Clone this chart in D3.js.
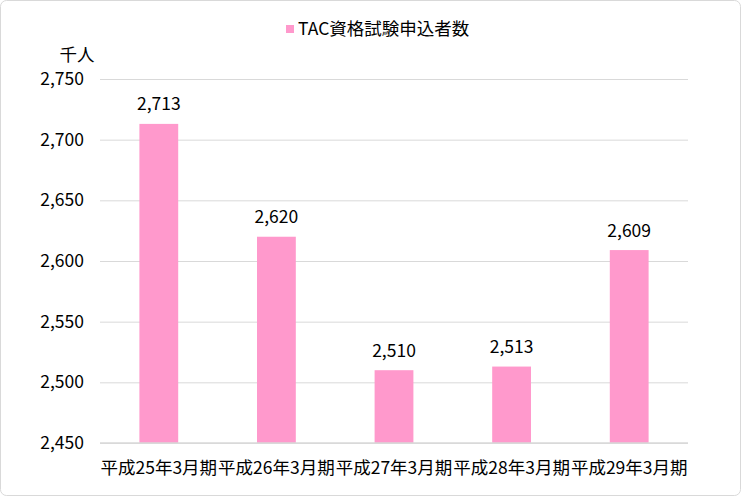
<!DOCTYPE html>
<html><head><meta charset="utf-8">
<script src="https://cdn.jsdelivr.net/npm/d3@7"></script>
<style>body{margin:0;background:#fff;} text{font-family:"Meiryo UI","Noto Sans CJK JP",sans-serif;}</style>
</head><body><svg id="c" width="741" height="496"></svg>
<script>
const categories = ["平成25年3月期","平成26年3月期","平成27年3月期","平成28年3月期","平成29年3月期"];
const values = [2713, 2620, 2510, 2513, 2609];
const yTicks = [2450, 2500, 2550, 2600, 2650, 2700, 2750];
const seriesName = "TAC資格試験申込者数";
const unitLabel = "千人";

const FS = "17.5px";
const svg = d3.select("#c");
svg.append("rect").attr("x",0.5).attr("y",0.5).attr("width",740).attr("height",495)
  .attr("rx",6).attr("fill","#fff").attr("stroke","#d9d9d9");

const m = {left:100, right:688, top:79, bottom:443};
const x = d3.scaleBand().domain(categories).range([m.left,m.right]).paddingInner(0.67).paddingOuter(0.335);
const y = d3.scaleLinear().domain([2450,2750]).range([m.bottom,m.top]);
const fmt = d3.format(",");

// gridlines
const yAxis = d3.axisLeft(y).tickValues(yTicks).tickFormat(fmt).tickSize(-(m.right-m.left)).tickPadding(16);
const ga = svg.append("g").attr("transform",`translate(${m.left},0)`).call(yAxis);
ga.select(".domain").remove();
ga.selectAll(".tick line").attr("stroke","#d9d9d9").attr("stroke-width",1);
ga.selectAll(".tick text").attr("font-size",FS).attr("fill","#000");

// bars
svg.append("g").selectAll("rect").data(values).join("rect")
  .attr("x",(d,i)=>x(categories[i])).attr("width",x.bandwidth())
  .attr("y",d=>y(d)).attr("height",d=>y(2450)-y(d)).attr("fill","#FF99CC");

// baseline
svg.append("line").attr("x1",m.left).attr("x2",m.right).attr("y1",y(2450)).attr("y2",y(2450))
  .attr("stroke","#d9d9d9").attr("stroke-width",1.5);

// value labels
svg.append("g").selectAll("text").data(values).join("text")
  .attr("x",(d,i)=>x(categories[i])+x.bandwidth()/2).attr("y",d=>y(d)-13.5)
  .attr("text-anchor","middle").attr("font-size",FS).attr("fill","#000").text(d=>fmt(d));

// x labels
const xAxis = d3.axisBottom(x).tickSize(0).tickPadding(18.5);
const gx = svg.append("g").attr("transform",`translate(0,${m.bottom})`).call(xAxis);
gx.select(".domain").remove();
gx.selectAll(".tick text").attr("font-size",FS).attr("fill","#000");

// unit
svg.append("text").attr("x",77).attr("y",61).attr("text-anchor","middle").attr("font-size",FS).attr("fill","#000").text(unitLabel);

// legend
svg.append("rect").attr("x",286).attr("y",25).attr("width",8).attr("height",8).attr("fill","#FF99CC");
svg.append("text").attr("x",298).attr("y",35).attr("font-size",FS).attr("fill","#000").text(seriesName);
</script></body></html>
